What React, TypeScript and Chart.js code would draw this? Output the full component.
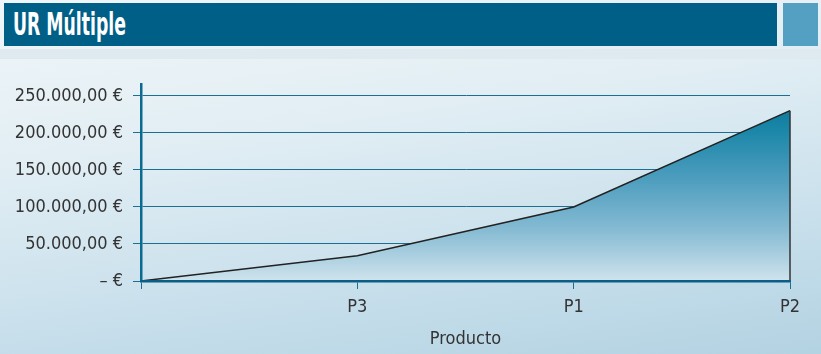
import React, { useEffect, useRef } from "react";
import { Chart, registerables } from "chart.js";

Chart.register(...registerables);

const categories = ["", "P3", "P1", "P2"];
const values = [0, 34000, 100000, 230000];
const yTicks = [0, 50000, 100000, 150000, 200000, 250000];
const titleText = "UR Múltiple";
const xTitle = "Producto";

const fmt = (v: number) => {
  if (v === 0) return "– €";
  const s = Math.round(v).toString().replace(/\B(?=(\d{3})+(?!\d))/g, ".");
  return s + ",00 €";
};

const FONT = "'DejaVu Sans Condensed', 'Liberation Sans Narrow', sans-serif";

const edgePlugin = {
  id: "areaEdge",
  afterDatasetsDraw(chart: any) {
    const meta = chart.getDatasetMeta(0);
    const pts = meta.data;
    if (!pts || !pts.length) return;
    const last = pts[pts.length - 1];
    const base = chart.scales.y.getPixelForValue(0);
    const c = chart.ctx;
    c.save();
    c.strokeStyle = "#333333";
    c.lineWidth = 1.5;
    c.beginPath();
    c.moveTo(last.x, last.y);
    c.lineTo(last.x, base);
    c.stroke();
    c.restore();
  },
};

export default function App() {
  const ref = useRef<HTMLCanvasElement>(null);
  useEffect(() => {
    document.body.style.margin = "0";
    const chart = new Chart(ref.current!, {
      type: "line",
      data: {
        labels: categories,
        datasets: [
          {
            data: values,
            borderColor: "#222222",
            borderWidth: 1.5,
            pointRadius: 0,
            tension: 0,
            fill: "origin",
            backgroundColor: (ctx: any) => {
              const { chart } = ctx;
              const area = chart.chartArea;
              if (!area) return "rgba(0,0,0,0)";
              const g = chart.ctx.createLinearGradient(0, area.top, 0, area.bottom);
              g.addColorStop(0, "#006f93");
              g.addColorStop(0.23, "#1a86a8");
              g.addColorStop(0.49, "#4f9ebf");
              g.addColorStop(0.74, "#86bbd3");
              g.addColorStop(1, "#cfe3ed");
              return g;
            },
          },
        ],
      },
      plugins: [edgePlugin],
      options: {
        animation: false,
        responsive: false,
        maintainAspectRatio: false,
        layout: { padding: { top: 84, right: 31, left: 0, bottom: 0 } },
        plugins: { legend: { display: false }, tooltip: { enabled: false } },
        scales: {
          x: {
            offset: false,
            afterFit: (s: any) => {
              s.height = 73;
            },
            border: { display: true, color: "#0a5f86", width: 2.5, z: 1 },
            grid: {
              display: true,
              drawOnChartArea: false,
              drawTicks: true,
              tickLength: 8,
              tickColor: "#1b6f93",
              color: "#1b6f93",
            },
            ticks: {
              color: "#333333",
              padding: 8,
              font: { family: FONT, size: 18 },
              maxRotation: 0,
            },
            title: {
              display: true,
              text: xTitle,
              color: "#333333",
              font: { family: FONT, size: 18 },
              padding: { top: 0, bottom: 4 },
            },
          },
          y: {
            min: 0,
            max: 266000,
            afterFit: (s: any) => {
              s.width = 141;
            },
            afterBuildTicks: (s: any) => {
              s.ticks = yTicks.map((v) => ({ value: v }));
            },
            border: { display: true, color: "#0a6a8f", width: 2.5 },
            grid: {
              color: "#1b6f93",
              lineWidth: 1,
              tickLength: 8,
              tickColor: "#1b6f93",
            },
            ticks: {
              color: "#333333",
              padding: 10,
              font: { family: FONT, size: 18 },
              callback: (v: any) => fmt(Number(v)),
            },
          },
        },
      },
    });
    return () => chart.destroy();
  }, []);

  return (
    <div
      style={{
        position: "relative",
        width: 821,
        height: 354,
        overflow: "hidden",
        background:
          "linear-gradient(172deg, #f0f6f9 0%, #e2eef4 35%, #c9e0ec 70%, #b3d2e2 100%)",
      }}
    >
      <div
        style={{
          position: "absolute",
          left: 0,
          top: 49,
          width: 821,
          height: 10,
          background: "#dfeaf0",
        }}
      />
      <div
        style={{
          position: "absolute",
          left: 4,
          top: 3,
          width: 773,
          height: 43,
          background: "#005f86",
        }}
      />
      <div
        style={{
          position: "absolute",
          left: 783,
          top: 3,
          width: 35,
          height: 43,
          background: "#54a0c2",
        }}
      />
      <div
        style={{
          position: "absolute",
          left: 13,
          top: 5,
          color: "#ffffff",
          fontFamily: FONT,
          fontWeight: "bold",
          fontSize: 32,
          lineHeight: "38px",
          transform: "scaleX(0.6)",
          transformOrigin: "left center",
          whiteSpace: "nowrap",
        }}
      >
        {titleText}
      </div>
      <canvas
        ref={ref}
        width={821}
        height={354}
        style={{ position: "absolute", left: 0, top: 0, width: 821, height: 354 }}
      />
    </div>
  );
}
